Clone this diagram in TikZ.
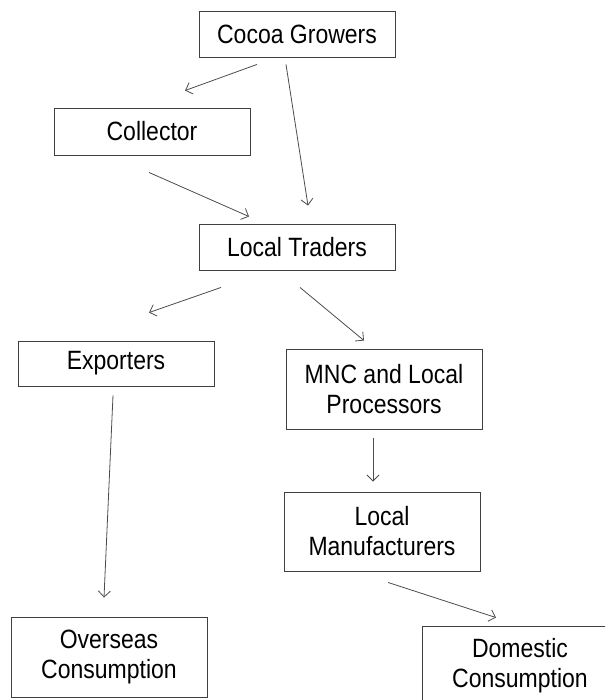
\documentclass[tikz,border=0pt]{standalone}
\usepackage{graphicx}
\usepackage{fontspec}
\setmainfont{Liberation Sans}
\usetikzlibrary{arrows.meta}

% text in the reference is drawn a little taller than wide
\newcommand{\tallline}[1]{\scalebox{1}[1.15]{#1}}

\begin{document}
\begin{tikzpicture}[x=1pt, y=-1pt,
    box/.style={draw=black!75, line width=0.9pt, align=center, minimum width=196pt,
                font=\fontsize{23}{30}\selectfont},
    flow/.style={draw=black!70, line width=0.8pt, -{Straight Barb[length=6pt,width=12pt]}}]
  \useasboundingbox (0,0) rectangle (605,700);
  \clip (0,0) rectangle (605,700);

  \node[box, minimum height=46pt]  (CG)  at (297,  34.0)  {\tallline{Cocoa Growers}};
  \node[box, minimum height=47pt]  (COL) at (152, 131.5)  {\tallline{Collector}};
  \node[box, minimum height=46pt]  (LT)  at (297, 247.0)  {\tallline{Local Traders}};

  \node[box, minimum height=45pt]  (EXP) at (116, 363.5)  {\tallline{Exporters}};
  \node[box, minimum height=80pt]  (MNC) at (384, 389.0)  {\tallline{MNC and Local} \\ \tallline{Processors}};
  \node[box, minimum height=79pt]  (LM)  at (382, 531.5)  {\tallline{Local} \\ \tallline{Manufacturers}};

  \node[box, minimum height=80pt]  (OC)  at (109, 657.0)  {\tallline{Overseas} \\ \tallline{Consumption}};
  % this box runs off the right and bottom edges
  \node[box, minimum height=80pt]  (DC)  at (520, 666.0)  {\tallline{Domestic} \\ \tallline{Consumption}};

  \draw[flow] ([xshift=-40pt, yshift=-7pt]CG.south)  -- ([xshift=33pt, yshift=17pt]COL.north);
  \draw[flow] ([xshift=-11pt, yshift=-7pt]CG.south)  -- ([xshift=11pt, yshift=18pt]LT.north);
  \draw[flow] ([xshift=-3pt, yshift=-17pt]COL.south) -- ([xshift=-48pt, yshift=7pt]LT.north);

  \draw[flow] ([xshift=-76pt, yshift=-17pt]LT.south) -- ([xshift=33pt, yshift=28pt]EXP.north);
  \draw[flow] ([xshift=3pt, yshift=-17pt]LT.south)   -- ([xshift=-20pt, yshift=8pt]MNC.north);

  \draw[flow] ([xshift=-11pt, yshift=-9pt]MNC.south) -- ([xshift=-9pt, yshift=10pt]LM.north);
  \draw[flow] ([xshift=-3pt, yshift=-9pt]EXP.south)  -- ([xshift=-5pt, yshift=19pt]OC.north);
  \draw[flow] ([xshift=6pt, yshift=-11pt]LM.south)   -- ([xshift=-24pt, yshift=8pt]DC.north);
\end{tikzpicture}
\end{document}
